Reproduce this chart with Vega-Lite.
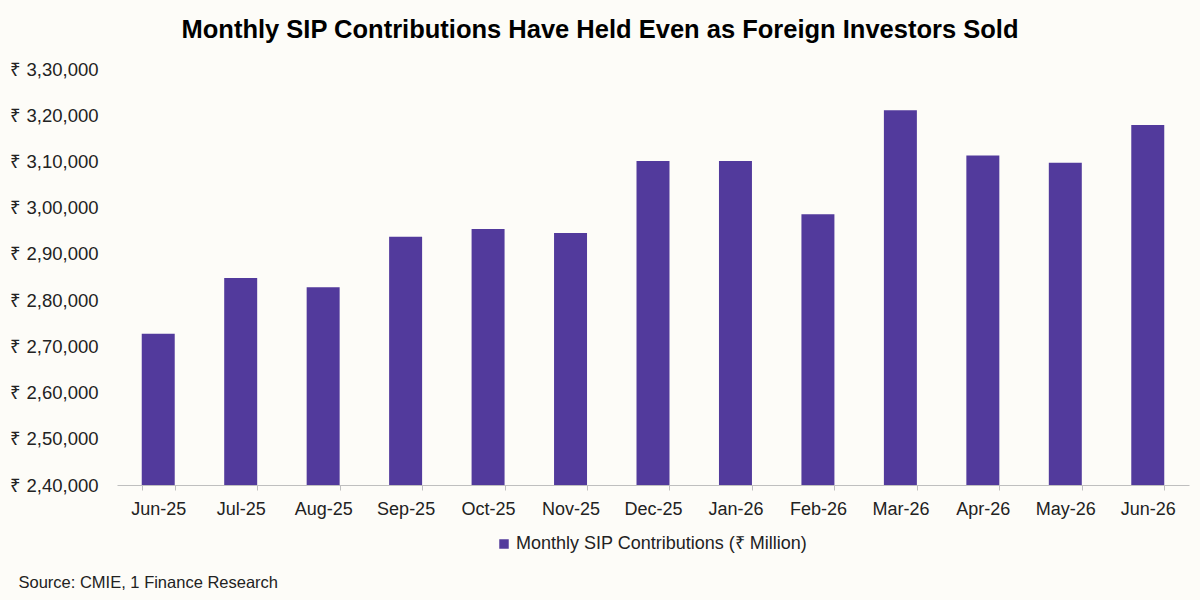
{
  "$schema": "https://vega.github.io/schema/vega-lite/v6.json",
  "width": 1072,
  "height": 416,
  "autosize": {"type": "none"},
  "padding": {"left": 117, "top": 69, "right": 11, "bottom": 115},
  "background": "#FDFCF8",
  "title": {
    "text": "Monthly SIP Contributions Have Held Even as Foreign Investors Sold",
    "font": "Liberation Sans",
    "fontSize": 25.5,
    "fontWeight": "bold",
    "color": "#000000",
    "anchor": "middle",
    "dx": -53,
    "offset": 17
  },
  "data": {
    "values": [
      {"month": "Jun-25", "value": 272700},
      {"month": "Jul-25", "value": 284800},
      {"month": "Aug-25", "value": 282800},
      {"month": "Sep-25", "value": 293700},
      {"month": "Oct-25", "value": 295400},
      {"month": "Nov-25", "value": 294500},
      {"month": "Dec-25", "value": 310100},
      {"month": "Jan-26", "value": 310100},
      {"month": "Feb-26", "value": 298600},
      {"month": "Mar-26", "value": 321100},
      {"month": "Apr-26", "value": 311300},
      {"month": "May-26", "value": 309700},
      {"month": "Jun-26", "value": 317900}
    ]
  },
  "mark": {"type": "bar", "clip": true},
  "encoding": {
    "x": {
      "field": "month",
      "type": "ordinal",
      "sort": null,
      "scale": {"paddingInner": 0.6, "paddingOuter": 0.3},
      "axis": {
        "title": "Source: CMIE, 1 Finance Research",
        "titleFont": "Liberation Sans",
        "titleFontSize": 16.5,
        "titleFontWeight": "normal",
        "titleColor": "#222222",
        "titleAnchor": "start",
        "titleAlign": "left",
        "titleBaseline": "middle",
        "titleX": -99,
        "titleY": 97,
        "labelAngle": 0,
        "labelFont": "Liberation Sans",
        "labelFontSize": 18,
        "labelColor": "#222222",
        "labelPadding": 10,
        "domainColor": "#BFBFBF",
        "tickColor": "#BFBFBF",
        "tickSize": 5,
        "tickBand": "extent",
        "grid": false
      }
    },
    "y": {
      "field": "value",
      "type": "quantitative",
      "scale": {"domain": [240000, 330000], "zero": false, "nice": false},
      "axis": {
        "title": null,
        "values": [240000, 250000, 260000, 270000, 280000, 290000, 300000, 310000, 320000, 330000],
        "labelExpr": "'₹ ' + floor(datum.value/100000) + ',' + format(floor((datum.value%100000)/1000),'02') + ',' + format(datum.value%1000,'03')",
        "labelFont": "Liberation Sans",
        "labelFontSize": 18.5,
        "labelColor": "#222222",
        "labelPadding": 19,
        "domain": false,
        "ticks": false,
        "grid": false
      }
    },
    "color": {
      "datum": "Monthly SIP Contributions (₹ Million)",
      "type": "nominal",
      "scale": {"range": ["#523A9C"]},
      "legend": {
        "title": null,
        "orient": "none",
        "legendX": 378,
        "legendY": 466,
        "symbolType": "square",
        "symbolSize": 90,
        "symbolStrokeWidth": 0,
        "labelFont": "Liberation Sans",
        "labelFontSize": 18,
        "labelColor": "#222222",
        "labelOffset": 3,
        "labelLimit": 0
      }
    }
  },
  "config": {
    "view": {"stroke": null}
  }
}
